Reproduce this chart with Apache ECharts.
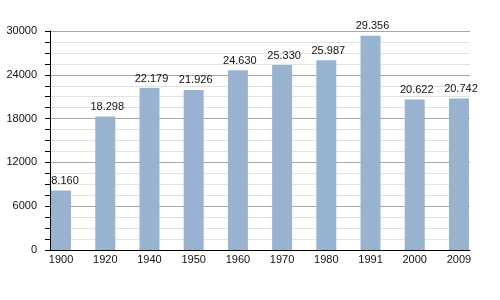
<!DOCTYPE html>
<html><head><meta charset="utf-8">
<script src="https://cdn.jsdelivr.net/npm/echarts@6/dist/echarts.min.js"></script>
<style>html,body{margin:0;padding:0;background:#fff}#c{width:500px;height:300px}</style>
</head><body><div id="c"></div>
<script>
const years = ['1900','1920','1940','1950','1960','1970','1980','1991','2000','2009'];
const population = [8160, 18298, 22179, 21926, 24630, 25330, 25987, 29356, 20622, 20742];
const yTicks = [0, 6000, 12000, 18000, 24000, 30000];

function fmt(v){ return String(v).replace(/\B(?=(\d{3})+(?!\d))/g, '.'); }

const chart = echarts.init(document.getElementById('c'), null, {renderer:'canvas'});
chart.setOption({
  animation:false,
  textStyle:{fontFamily:'Liberation Sans, Arial, sans-serif'},
  grid:{left:50, right:30, top:31, bottom:50},
  xAxis:{
    type:'value', min:-0.25, max:9.25,
    splitLine:{show:false},
    axisTick:{show:false},
    axisLine:{show:true, onZero:false, lineStyle:{color:'#000', width:1}},
    axisLabel:{customValues: years.map((y,i)=>i), formatter:(v)=>years[Math.round(v)], color:'#111', fontSize:11, margin:4}
  },
  yAxis:{
    type:'value', min:yTicks[0], max:yTicks[yTicks.length-1], interval:yTicks[1]-yTicks[0],
    axisLine:{show:true, onZero:false, lineStyle:{color:'#000', width:1}},
    axisTick:{show:true, inside:false, length:5, lineStyle:{color:'#000'}},
    minorTick:{show:true, splitNumber:4, length:5, lineStyle:{color:'#000'}},
    splitLine:{show:true, lineStyle:{color:'#a8a8a8', width:1}},
    minorSplitLine:{show:true, lineStyle:{color:'#e2e2e2', width:1}},
    axisLabel:{color:'#111', fontSize:11, margin:13, formatter:(v)=>String(v)}
  },
  series:[{
    type:'bar',
    data: population.map((v,i)=> i===0 ? {value:[i,v], label:{offset:[4,0]}} : {value:[i,v], label:{offset:[2,0]}}),
    barWidth:20,
    itemStyle:{color:'#98b3d0'},
    label:{show:true, position:'top', distance:4, color:'#111', fontSize:11, formatter:(p)=>fmt(p.value[1])}
  }]
});
</script></body></html>
